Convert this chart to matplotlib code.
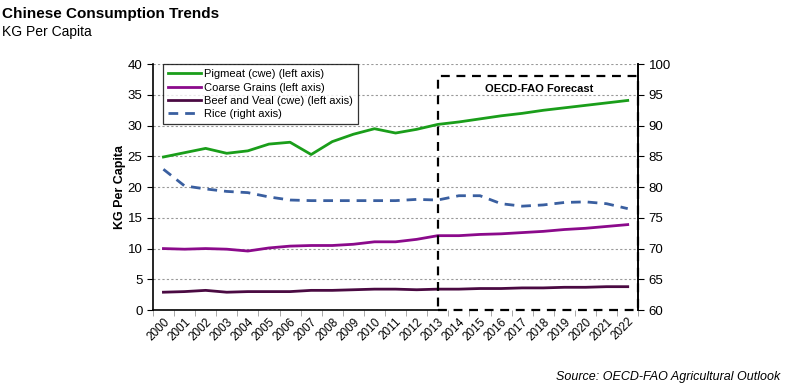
import numpy as np
import matplotlib
matplotlib.use("Agg")
import matplotlib.pyplot as plt
from matplotlib.patches import Rectangle

plt.rcParams["font.family"] = ["Liberation Sans", "DejaVu Sans"]

years = list(range(2000, 2023))
pigmeat = [24.9, 25.6, 26.3, 25.5, 25.9, 27.0, 27.3, 25.3, 27.4, 28.6, 29.5, 28.8, 29.4,
           30.2, 30.6, 31.1, 31.6, 32.0, 32.5, 32.9, 33.3, 33.7, 34.1]
coarse = [10.0, 9.9, 10.0, 9.9, 9.6, 10.1, 10.4, 10.5, 10.5, 10.7, 11.1, 11.1, 11.5,
          12.1, 12.1, 12.3, 12.4, 12.6, 12.8, 13.1, 13.3, 13.6, 13.9]
beef = [2.9, 3.0, 3.2, 2.9, 3.0, 3.0, 3.0, 3.2, 3.2, 3.3, 3.4, 3.4, 3.3,
        3.4, 3.4, 3.5, 3.5, 3.6, 3.6, 3.7, 3.7, 3.8, 3.8]
rice = [82.9, 80.2, 79.7, 79.3, 79.1, 78.4, 77.9, 77.8, 77.8, 77.8, 77.8, 77.8, 78.0,
        77.9, 78.6, 78.6, 77.3, 76.9, 77.1, 77.5, 77.6, 77.3, 76.5]

GREEN = "#1a9e1a"
PURPLE = "#8b0a8b"
DARK = "#4a0a42"
BLUE = "#3a5fa0"

fig = plt.figure(figsize=(7.88, 3.89), dpi=100)
ax = fig.add_axes([0.194, 0.203, 0.616, 0.632])
ax2 = ax.twinx()

x = np.arange(len(years))
ax.plot(x, pigmeat, color=GREEN, lw=2, label="Pigmeat (cwe) (left axis)")
ax.plot(x, coarse, color=PURPLE, lw=2, label="Coarse Grains (left axis)")
ax.plot(x, beef, color=DARK, lw=2, label="Beef and Veal (cwe) (left axis)")
ax2.plot(x, rice, color=BLUE, lw=2, ls=(0, (3.5, 2.5)), label="Rice (right axis)")

ax.set_xlim(-0.5, len(years) - 0.5)
ax.set_ylim(0, 40)
ax2.set_ylim(60, 100)
ax.set_yticks(range(0, 41, 5))
ax2.set_yticks(range(60, 101, 5))
ax.yaxis.grid(True, color="#999999", ls=(0, (2, 2)), lw=0.8)
ax.set_axisbelow(True)

ax.set_xticks(x)
ax.set_xticklabels([str(y) for y in years], rotation=45, ha="right",
                   rotation_mode="anchor", fontsize=8.5)
ax.set_xticks(np.arange(-0.5, len(years), 1), minor=True)
ax.tick_params(axis="x", which="major", length=0, pad=4)
ax.tick_params(axis="x", which="minor", length=4, color="#999999")
ax.tick_params(axis="y", labelsize=9.5, length=4, direction="out")
ax2.tick_params(axis="y", labelsize=9.5, length=4, direction="out")
ax.set_ylabel("KG Per Capita", fontsize=9, fontweight="bold", labelpad=1)

for a in (ax, ax2):
    a.spines["top"].set_visible(False)
    a.spines["bottom"].set_visible(False)
    a.spines["left"].set_linewidth(1.2)
    a.spines["right"].set_linewidth(1.2)
ax2.spines["left"].set_visible(False)

# solid bottom axis up to the forecast box
ax.plot([-0.5, 13], [0, 0], color="black", lw=1.2, clip_on=False, zorder=5)
box = Rectangle((13, 0), len(years) - 0.5 - 13, 38, fill=False, ec="black",
                lw=1.6, ls=(0, (4, 3)), clip_on=False, zorder=6)
ax.add_patch(box)
ax.text(17.8, 36.0, "OECD-FAO Forecast", ha="center", va="center",
        fontsize=8, fontweight="bold")

h1, l1 = ax.get_legend_handles_labels()
h2, l2 = ax2.get_legend_handles_labels()
leg = ax.legend(h1 + h2, l1 + l2, loc="upper left", bbox_to_anchor=(0.02, 1.0),
                borderaxespad=0, fontsize=8, frameon=True, fancybox=False,
                edgecolor="black", handlelength=3.0, borderpad=0.45,
                labelspacing=0.3, handletextpad=0.3)
leg.get_frame().set_linewidth(0.9)
leg.set_zorder(10)

fig.text(0.003, 0.963, "Chinese Consumption Trends", fontsize=11, fontweight="bold",
         va="center")
fig.text(0.003, 0.918, "KG Per Capita", fontsize=10, va="center")
fig.text(0.99, 0.03, "Source: OECD-FAO Agricultural Outlook", fontsize=9,
         style="italic", ha="right", va="center")

fig.savefig("out.png", dpi=100)
